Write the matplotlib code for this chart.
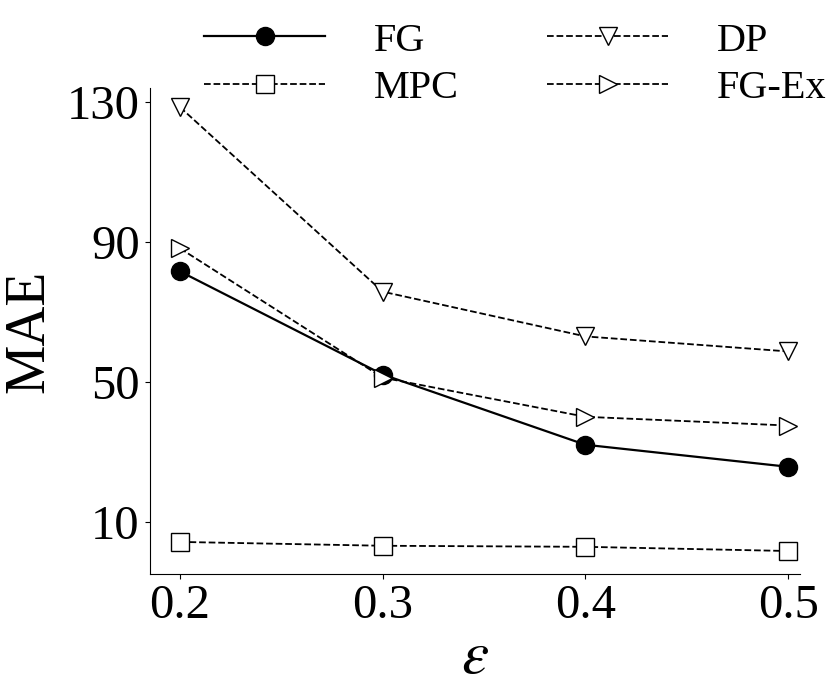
import matplotlib
matplotlib.use("Agg")
import matplotlib.pyplot as plt

plt.rcParams['font.family'] = ['Liberation Serif', 'DejaVu Serif']
plt.rcParams['mathtext.fontset'] = 'stix'

eps = [0.2, 0.3, 0.4, 0.5]
fg = [81.6, 52.1, 32.0, 25.7]
mpc = [4.2, 3.1, 2.8, 1.6]
dp = [128.6, 75.8, 63.0, 58.7]
fg_ex = [88.2, 51.2, 40.0, 37.5]

fig = plt.figure(figsize=(8.31, 6.95), dpi=100)
ax = fig.add_axes([0.18, 0.174, 0.783, 0.699])

ax.plot(eps, fg, 'k-', marker='o', ms=13, lw=1.6, label='FG')
ax.plot(eps, mpc, 'k--', marker='s', ms=13, mfc='white', lw=1.3, label='MPC')
ax.plot(eps, dp, 'k--', marker='v', ms=13, mfc='white', lw=1.3, label='DP')
ax.plot(eps, fg_ex, 'k--', marker='>', ms=13, mfc='white', lw=1.3, label='FG-Ex')

ax.set_xlim(0.185, 0.506)
ax.set_ylim(-5, 134)
ax.set_xticks(eps)
ax.set_yticks([10, 50, 90, 130])
ax.tick_params(labelsize=35)
ax.spines['top'].set_visible(False)
ax.spines['right'].set_visible(False)
ax.set_ylabel('MAE', fontsize=40, labelpad=8)
ax.set_xlabel(r'$\varepsilon$', fontsize=44, labelpad=2)

fig.legend(loc='upper center', bbox_to_anchor=(0.62, 1.02), ncol=2, frameon=False,
           fontsize=29, handlelength=3, columnspacing=2.2, handletextpad=1.2,
           labelspacing=0.25)

fig.savefig('out.png', dpi=100)
